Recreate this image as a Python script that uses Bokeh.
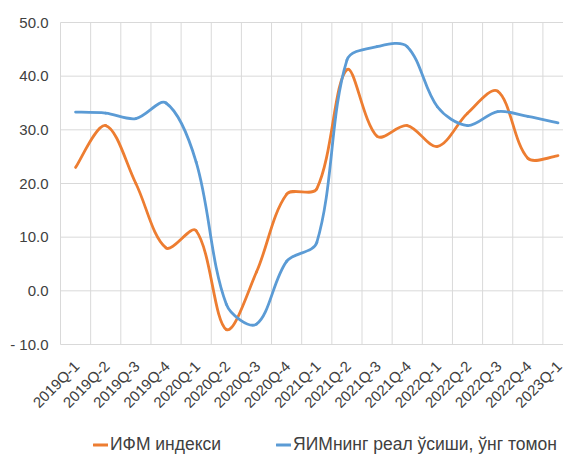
import math
from bokeh.plotting import figure
from bokeh.models import Range1d, ColumnDataSource
from bokeh.core.properties import value
from bokeh.embed import file_html
from bokeh.resources import INLINE

quarters = ["2019Q-1", "2019Q-2", "2019Q-3", "2019Q-4", "2020Q-1", "2020Q-2",
            "2020Q-3", "2020Q-4", "2021Q-1", "2021Q-2", "2021Q-3", "2021Q-4",
            "2022Q-1", "2022Q-2", "2022Q-3", "2022Q-4", "2023Q-1"]
ifm_index = [23.0, 30.8, 20.0, 8.0, 11.2, -7.2, 3.5, 18.0, 19.0, 41.2, 28.8,
             30.8, 26.9, 33.1, 37.2, 24.7, 25.2]
gdp_growth = [33.3, 33.1, 32.1, 35.0, 24.0, -2.5, -6.2, 5.5, 9.0, 43.0, 45.5,
              45.5, 34.3, 30.8, 33.4, 32.5, 31.3]
y_ticks = [-10, 0, 10, 20, 30, 40, 50]
y_tick_labels = ["- 10.0", "0.0", "10.0", "20.0", "30.0", "40.0", "50.0"]
series_names = ["ИФМ индекси", "ЯИМнинг реал ўсиши, ўнг томон"]
colors = ["#ED7D31", "#5B9BD5"]

FONT = "Liberation Sans"
TXT = "#404040"
GRID = "#D9D9D9"

W, H = 563, 455
PLOT_LEFT, PLOT_TOP = 60, 22          # pixel position of the value area
PX_PER_CAT = 30.15
PX_PER_UNIT = 322 / (y_ticks[-1] - y_ticks[0])

xs = list(range(len(quarters)))
x_start = -0.5 - PLOT_LEFT / PX_PER_CAT
x_end = x_start + W / PX_PER_CAT
y_top = y_ticks[-1] + PLOT_TOP / PX_PER_UNIT
y_bottom = y_top - H / PX_PER_UNIT


def smooth(xv, yv):
    # Bezier control points computed in screen space (Excel-like smoothing)
    n = len(xv)
    P = [(x * PX_PER_CAT, y * PX_PER_UNIT) for x, y in zip(xv, yv)]

    def dist(a, b):
        return math.hypot(b[0] - a[0], b[1] - a[1])

    before, after = [], []
    for i in range(n):
        a = P[i - 1] if i > 0 else P[i]
        c = P[i + 1] if i < n - 1 else P[i]
        d0 = dist(a, P[i])
        d1 = dist(P[i], c)
        tot = d0 + d1 if d0 + d1 > 0 else 1.0
        tx, ty = (c[0] - a[0]) / 6.0, (c[1] - a[1]) / 6.0
        fb = 2 * d0 / tot if 0 < i < n - 1 else 1.0
        fa = 2 * d1 / tot if 0 < i < n - 1 else 1.0
        before.append((P[i][0] - tx * fb, P[i][1] - ty * fb))
        after.append((P[i][0] + tx * fa, P[i][1] + ty * fa))
    out = dict(x0=[], y0=[], x1=[], y1=[], cx0=[], cy0=[], cx1=[], cy1=[])
    for i in range(n - 1):
        out["x0"].append(xv[i]); out["y0"].append(yv[i])
        out["x1"].append(xv[i + 1]); out["y1"].append(yv[i + 1])
        out["cx0"].append(after[i][0] / PX_PER_CAT)
        out["cy0"].append(after[i][1] / PX_PER_UNIT)
        out["cx1"].append(before[i + 1][0] / PX_PER_CAT)
        out["cy1"].append(before[i + 1][1] / PX_PER_UNIT)
    return out


p = figure(width=W, height=H,
           x_range=Range1d(x_start, x_end), y_range=Range1d(y_bottom, y_top),
           output_backend="svg", toolbar_location=None,
           min_border=0)
p.outline_line_color = None
p.axis.visible = False
p.grid.visible = False

# gridlines: category boundaries (vertical) and value ticks (horizontal)
bounds = [i - 0.5 for i in range(len(quarters) + 1)]
p.segment(x0=bounds, y0=[y_ticks[0]] * len(bounds), x1=bounds,
          y1=[y_ticks[-1]] * len(bounds), line_color=GRID, line_width=1)
p.segment(x0=[bounds[0]] * len(y_ticks), y0=y_ticks,
          x1=[bounds[-1]] * len(y_ticks), y1=y_ticks,
          line_color=GRID, line_width=1)

for vals, name, col in zip([ifm_index, gdp_growth], series_names, colors):
    seg = smooth(xs, vals)
    p.bezier(source=seg, x0="x0", y0="y0", x1="x1", y1="y1", cx0="cx0",
             cy0="cy0", cx1="cx1", cy1="cy1", line_color=col, line_width=2.8,
             line_cap="round", legend_label=name)

# value-axis tick labels
ylab = ColumnDataSource(dict(x=[bounds[0]] * len(y_ticks), y=y_ticks,
                             t=y_tick_labels))
p.text(x="x", y="y", text="t", source=ylab, text_align="right",
       text_baseline="middle", x_offset=-12,
       text_font=value(FONT), text_font_size="15px", text_color=TXT)

# category labels, rotated 45 degrees below the bottom gridline
xlab = ColumnDataSource(dict(x=xs, y=[y_ticks[0]] * len(xs), t=quarters))
p.text(x="x", y="y", text="t", source=xlab, angle=math.pi / 4,
       text_align="right", text_baseline="middle", x_offset=1, y_offset=19,
       text_font=value(FONT), text_font_size="15px", text_color=TXT)

leg = p.legend[0]
leg.orientation = "horizontal"
leg.location = (93, 0)
leg.label_text_font = FONT
leg.label_text_font_size = "17.5px"
leg.label_text_color = TXT
leg.glyph_width = 15
leg.glyph_height = 17
leg.label_standoff = 2
leg.spacing = 55
leg.padding = 0
leg.margin = 0
leg.border_line_color = None
leg.background_fill_alpha = 0

open("out.html", "w").write(file_html(p, INLINE))
